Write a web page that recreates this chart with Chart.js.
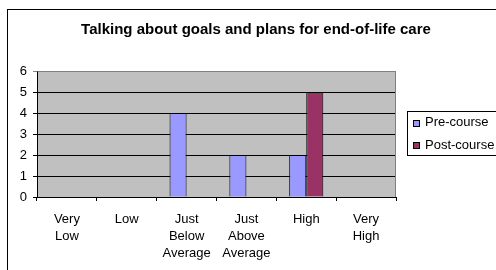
<!DOCTYPE html>
<html><head><meta charset="utf-8">
<script src="https://cdn.jsdelivr.net/npm/chart.js@4"></script>
<style>html,body{margin:0;padding:0;background:#fff}#wrap{width:496px;height:270px;position:relative}</style>
</head><body><div id="wrap"><canvas id="c"></canvas></div>
<script>
const categories = [['Very','Low'],'Low',['Just','Below','Average'],['Just','Above','Average'],'High',['Very','High']];
const preCourse = [0,0,4,2,2,0];
const postCourse = [0,0,0,0,5,0];
const yTicks = [0,1,2,3,4,5,6];
const seriesNames = ['Pre-course','Post-course'];
const seriesColors = ['#9999FF','#993366'];
const titleText = 'Talking about goals and plans for end-of-life care';

const FONT = "'Liberation Sans', Arial, sans-serif";

const deco = {
  id: 'deco',
  beforeDraw(chart){
    const ctx = chart.ctx, a = chart.chartArea;
    ctx.save();
    ctx.fillStyle = '#fff'; ctx.fillRect(0,0,chart.width,chart.height);
    ctx.strokeStyle = '#000'; ctx.lineWidth = 1;
    ctx.strokeRect(7.5, 9.5, 800, 500);
    ctx.fillStyle = '#C0C0C0';
    ctx.fillRect(a.left, a.top, a.right - a.left, a.bottom - a.top);
    ctx.restore();
  },
  afterDraw(chart){
    const ctx = chart.ctx, a = chart.chartArea;
    ctx.save();
    ctx.strokeStyle = '#808080'; ctx.lineWidth = 1;
    ctx.beginPath();
    ctx.moveTo(Math.round(a.left)+0.5, Math.round(a.top)+0.5);
    ctx.lineTo(Math.round(a.right)-0.5, Math.round(a.top)+0.5);
    ctx.lineTo(Math.round(a.right)-0.5, Math.round(a.bottom));
    ctx.stroke();
    // title
    ctx.fillStyle = '#000';
    ctx.font = 'bold 15px ' + FONT;
    ctx.textAlign = 'center'; ctx.textBaseline = 'middle';
    ctx.fillText(titleText, 256, 29.5);
    // legend
    ctx.strokeStyle = '#000';
    ctx.strokeRect(407.5, 111.5, 200, 44);
    ctx.font = '13px ' + FONT;
    ctx.textAlign = 'left';
    chart.data.datasets.forEach((ds, i) => {
      const cy = 122.5 + i * 22.5;
      ctx.fillStyle = ds.backgroundColor;
      ctx.fillRect(413, Math.round(cy) - 3, 6, 6);
      ctx.strokeStyle = '#000';
      ctx.strokeRect(413.5, Math.round(cy) - 2.5, 6, 6);
      ctx.fillStyle = '#000';
      ctx.fillText(ds.label, 425, cy);
    });
    ctx.restore();
  }
};

new Chart(document.getElementById('c'), {
  type: 'bar',
  data: {
    labels: categories,
    datasets: [
      { label: seriesNames[0], data: preCourse, backgroundColor: seriesColors[0], borderColor: '#000', borderWidth: 1 },
      { label: seriesNames[1], data: postCourse, backgroundColor: seriesColors[1], borderColor: '#000', borderWidth: 1 }
    ]
  },
  options: {
    responsive: true, maintainAspectRatio: false, animation: false,
    devicePixelRatio: 1,
    layout: { padding: { top: 71, right: 100, left: 0, bottom: 0 } },
    plugins: { legend: { display: false }, title: { display: false }, tooltip: { enabled: false } },
    datasets: { bar: { categoryPercentage: 0.57, barPercentage: 1 } },
    scales: {
      x: {
        afterFit(s){ s.height = 73; },
        grid: { drawOnChartArea: false, drawTicks: true, tickLength: 4, color: '#000' },
        border: { color: '#000' },
        ticks: { color: '#000', font: { family: FONT, size: 13, lineHeight: 1.3 }, padding: 10, maxRotation: 0, autoSkip: false }
      },
      y: {
        min: 0, max: 6,
        afterFit(s){ s.width = 37; },
        afterBuildTicks(s){ s.ticks = yTicks.map(v => ({ value: v })); },
        grid: { color: c => (c.tick && c.tick.value === 6) ? '#808080' : '#000', tickLength: 4 },
        border: { color: '#000' },
        ticks: { color: '#000', font: { family: FONT, size: 13 }, padding: 6 }
      }
    }
  },
  plugins: [deco]
});
</script></body></html>
